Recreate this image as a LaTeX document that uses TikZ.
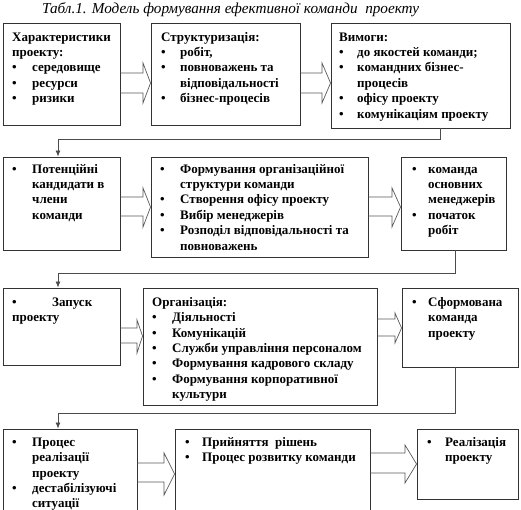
\documentclass[tikz,border=0pt]{standalone}
\usepackage{fontspec}
\setmainfont{Liberation Serif}
\usetikzlibrary{arrows.meta,fit,calc}
\newcommand\bu[1]{\makebox[#1pt][l]{•}}
\newcommand\ind[1]{\hspace*{#1pt}}
\newcommand\tx[4]{\node[txt] (#1) at (#2,{#3-11}) {\rule{0pt}{11pt}#4};}
\newcommand\blk[8]{\draw[barrow] (#1.east |- 0,#3) -- (#5,#3) -- (#5,#6) -- (#2.west |- 0,#8) -- (#5,#7) -- (#5,#4) -- (#1.east |- 0,#4);}
\begin{document}
\begin{tikzpicture}[x=1pt,y=-1pt,
  box/.style={draw=black!80,line width=0.9pt,inner sep=0pt,fit={#1}},
  txt/.style={anchor=north west,inner sep=0pt,align=left,font=\fontsize{13}{15.4}\selectfont\bfseries},
  barrow/.style={draw=black!65,line width=0.7pt},
  conn/.style={draw=black!70,line width=0.8pt,-{Latex[length=6pt,width=5pt]}},
  ttl/.style={anchor=base west,inner sep=0pt,font=\fontsize{15.2}{17}\selectfont\itshape}]
\useasboundingbox (0,0) rectangle (521,510);
\clip (0,0) rectangle (521,510);
\node[ttl] (title) at (42,14) {Табл.1. Модель формування ефективної команди\ \ проекту};
% boxes
\node[box={(3,23) (120,125)}] (A) {};
\node[box={(151,23) (300,125)}] (B) {};
\node[box={(331,23) (510,128)}] (C) {};
\node[box={(3,157) (120,250)}] (D) {};
\node[box={(151,157) (368,257)}] (E) {};
\node[box={(401,157) (506,250)}] (F) {};
\node[box={(3,288) (120,365)}] (G) {};
\node[box={(143,288) (377,405)}] (H) {};
\node[box={(402,288) (518,367)}] (I) {};
\node[box={(3,429) (137,520)}] (J) {};
\node[box={(175,429) (370,520)}] (K) {};
\node[box={(417,429) (518,499)}] (L) {};
% texts
\tx{tA}{12}{41}{Характеристики\\проекту:\\\bu{20}середовище\\\bu{20}ресурси\\\bu{20}ризики}
\tx{tB}{161}{41}{Структуризація:\\\bu{19}робіт,\\\bu{19}повноважень та\\\ind{19}відповідальності\\\bu{19}бізнес-процесів}
\tx{tC}{339}{41}{Вимоги:\\\bu{18}до якостей команди;\\\bu{18}командних бізнес-\\\ind{18}процесів\\\bu{18}офісу проекту\\\bu{18}комунікаціям проекту}
\tx{tD}{12}{173}{\bu{20}Потенційні\\\ind{20}кандидати в\\\ind{20}члени\\\ind{20}команди}
\tx{tE}{160}{173}{\bu{20}Формування організаційної\\\ind{20}структури команди\\\bu{20}Створення офісу проекту\\\bu{20}Вибір менеджерів\\\bu{20}Розподіл відповідальності та\\\ind{20}повноважень}
\tx{tF}{412}{173}{\bu{16}команда\\\ind{16}основних\\\ind{16}менеджерів\\\bu{16}початок\\\ind{16}робіт}
\tx{tG}{12}{306}{\bu{40}Запуск\\проекту}
\tx{tH}{152}{306}{Організація:\\\bu{20}Діяльності\\\bu{20}Комунікацій\\\bu{20}Служби управління персоналом\\\bu{20}Формування кадрового складу\\\bu{20}Формування корпоративної\\\ind{20}культури}
\tx{tI}{412}{306}{\bu{16}Сформована\\\ind{16}команда\\\ind{16}проекту}
\tx{tJ}{12}{446}{\bu{20}Процес\\\ind{20}реалізації\\\ind{20}проекту\\\bu{20}дестабілізуючі\\\ind{20}ситуації}
\tx{tK}{185}{446}{\bu{17}Прийняття\ \ рішень\\\bu{17}Процес розвитку команди}
\tx{tL}{427}{446}{\bu{18}Реалізація\\\ind{18}проекту}
% block arrows
\blk{A}{B}{73}{93}{143}{63}{103}{83}
\blk{B}{C}{73}{93}{322}{63}{103}{83}
\blk{D}{E}{197}{216}{143}{188}{227}{207}
\blk{E}{F}{197}{216}{392}{188}{227}{207}
\blk{G}{H}{328}{343}{137}{320}{353}{336}
\blk{H}{I}{319}{336}{395}{313}{343}{328}
\blk{J}{K}{463}{482}{164}{453}{495}{474}
\blk{K}{L}{453}{473}{405}{445}{483}{464}
% elbow connectors
\draw[conn] (C.south -| 440,0) -- (440,139) -| (D.north -| 58,0);
\draw[conn] (F.south -| 455,0) -- (455,273) -| (G.north -| 58,0);
\draw[conn] (I.south -| 455,0) -- (455,413) -| (J.north -| 58,0);
\end{tikzpicture}
\end{document}
